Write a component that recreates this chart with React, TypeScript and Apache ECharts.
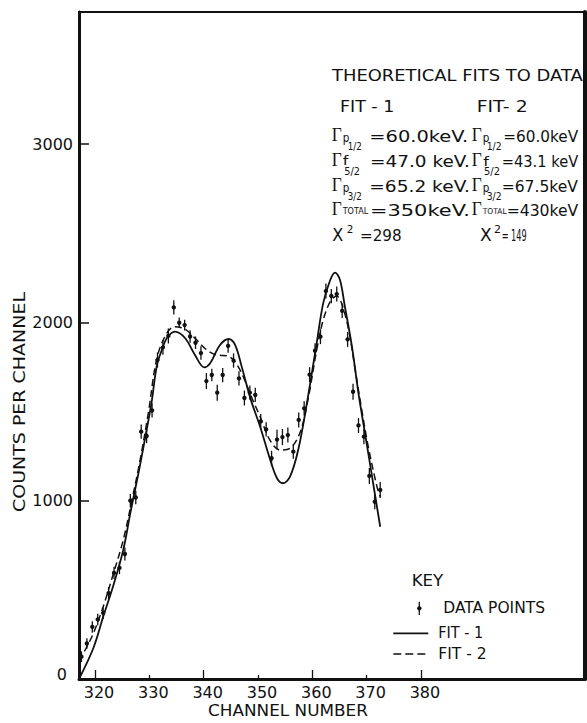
import React, { useEffect, useRef } from 'react';
import * as echarts from 'echarts';

// Measured data points (channel, counts per channel, half-length of error bar)
const channels = [
  317.5, 318.5, 319.5, 320.5, 321.5, 322.5, 323.5, 324.5, 325.5, 326.5,
  327.5, 328.5, 329.5, 330.5, 331.5, 332.5, 333.5, 334.5, 335.5, 336.5,
  337.5, 338.5, 339.5, 340.5, 341.5, 342.5, 343.5, 344.5, 345.5, 346.5,
  347.5, 348.5, 349.5, 350.5, 351.5, 352.5, 353.5, 354.5, 355.5, 356.5,
  357.5, 358.5, 359.5, 360.5, 361.5, 362.5, 363.5, 364.5, 365.5, 366.5,
  367.5, 368.5, 369.5, 370.5, 371.5, 372.5,
];
const counts = [
  125, 199, 292, 334, 370, 482, 595, 623, 701, 1000,
  1018, 1387, 1363, 1506, 1789, 1860, 1924, 2084, 1998, 1985,
  1921, 1886, 1828, 1671, 1705, 1606, 1705, 1868, 1786, 1686,
  1576, 1606, 1593, 1445, 1400, 1238, 1343, 1357, 1368, 1275,
  1453, 1518, 1707, 1841, 1920, 2176, 2148, 2159, 2065, 1905,
  1611, 1422, 1359, 1139, 994, 1060,
];
const errors = [
  30, 30, 32, 32, 33, 34, 34, 35, 36, 38,
  38, 40, 40, 40, 42, 42, 42, 40, 30, 30,
  35, 35, 38, 45, 35, 45, 40, 38, 40, 40,
  42, 40, 40, 42, 40, 42, 55, 45, 42, 40,
  42, 40, 42, 42, 42, 42, 40, 42, 40, 42,
  45, 42, 42, 45, 42, 45,
];

// Fit 1 (solid curve)
const fit1Channels = [
  317.05, 319.7, 321.5, 323.4, 325.2, 326.5, 328.0, 329.5, 330.4, 331.4,
  332.3, 333.2, 334.7, 336.6, 338.4, 340.1, 341.2, 343.0, 344.6, 345.8,
  347.0, 348.6, 350.4, 352.2, 353.5, 354.6, 355.9, 357.4, 359.0, 360.8,
  362.0, 363.3, 364.2, 365.1, 366.0, 367.3, 368.5, 369.7, 371.0, 372.5,
];
const fit1Counts = [
  0, 174, 349, 527, 724, 931, 1155, 1397, 1550, 1761,
  1845, 1911, 1948, 1911, 1817, 1748, 1771, 1873, 1907, 1873,
  1752, 1574, 1415, 1234, 1126, 1098, 1135, 1284, 1546, 1883,
  2107, 2238, 2279, 2238, 2088, 1864, 1602, 1378, 1135, 854,
];

// Fit 2 (dashed curve)
const fit2Channels = [
  317.05, 318.5, 319.7, 321.5, 323.4, 325.2, 326.8, 328.3, 329.8, 331.4,
  333.2, 334.7, 336.6, 338.4, 340.6, 342.4, 344.3, 345.5, 347.0, 348.9,
  350.4, 352.2, 354.1, 355.9, 357.8, 359.3, 360.8, 362.0, 363.3, 364.5,
  365.4, 366.7, 367.9, 369.1, 370.3, 371.9, 372.5,
];
const fit2Counts = [
  100, 181, 256, 405, 593, 780, 1004, 1228, 1490, 1800,
  1939, 1976, 1961, 1911, 1845, 1817, 1813, 1789, 1715, 1574,
  1471, 1340, 1284, 1294, 1387, 1583, 1845, 2013, 2116, 2148,
  2107, 1957, 1733, 1509, 1303, 1079, 1022,
];

const xTickLabels = [320, 330, 340, 350, 360, 370, 380];
const xMajorTicks = [320, 340, 360, 380];
const xMinorTicks = [330, 350, 370];
const yTickLabels = [0, 1000, 2000, 3000];
const yTicks = [1000, 2000, 3000];

const X_MIN = 317.05;
const X_MAX = 410.2;
const Y_MAX = 3741;

const INK = '#111';
const FONT = 'DejaVu Sans';
const SERIF = 'Liberation Serif';

let measureCtx: CanvasRenderingContext2D | null = null;
function measure(text: string, size: number, family: string): number {
  if (!measureCtx) measureCtx = document.createElement('canvas').getContext('2d');
  if (!measureCtx) return text.length * size * 0.6;
  measureCtx.font = `${size}px "${family}"`;
  return measureCtx.measureText(text).width || text.length * size * 0.6;
}

function fitText(text: string, x0: number, x1: number, yc: number, size: number, family: string = FONT): any {
  const w = measure(text, size, family);
  return {
    type: 'text',
    x: x0,
    y: yc,
    scaleX: (x1 - x0) / w,
    z: 100,
    silent: true,
    style: { text, fontSize: size, fontFamily: family, fill: INK, align: 'left', verticalAlign: 'middle' },
  };
}

function centerText(text: string, cx: number, cy: number, len: number, size: number, rotation = 0): any {
  const w = measure(text, size, FONT);
  return {
    type: 'text',
    x: cx,
    y: cy,
    rotation,
    scaleX: len / w,
    z: 100,
    silent: true,
    style: { text, fontSize: size, fontFamily: FONT, fill: INK, align: 'center', verticalAlign: 'middle' },
  };
}

function buildGraphics(): any[] {
  const g: any[] = [];
  // Title block
  g.push(fitText('THEORETICAL FITS TO DATA', 332, 583, 76, 15));
  g.push(fitText('FIT - 1', 340, 394.3, 107, 15));
  g.push(fitText('FIT- 2', 476.7, 527.7, 107, 15));

  // Row 1: Γ p1/2
  g.push(fitText('Γ', 331.7, 341.7, 135, 18, SERIF));
  g.push(fitText('p', 342.7, 349.3, 138, 13));
  g.push(fitText('1/2', 347.7, 361.7, 146, 10));
  g.push(fitText('=60.0keV.', 369.3, 468.3, 136, 16));
  g.push(fitText('Γ', 471.7, 481.7, 135, 18, SERIF));
  g.push(fitText('p', 482.7, 489.3, 138, 13));
  g.push(fitText('1/2', 486.7, 501.7, 146, 10));
  g.push(fitText('=60.0keV', 503.3, 578.3, 136, 16));

  // Row 2: Γ f5/2
  g.push(fitText('Γ', 331.7, 341.7, 160, 18, SERIF));
  g.push(fitText('f', 342.7, 348.3, 161, 13));
  g.push(fitText('5/2', 344.3, 360, 171, 10));
  g.push(fitText('=47.0 keV.', 370, 470, 161.5, 16));
  g.push(fitText('Γ', 471.7, 481.7, 160, 18, SERIF));
  g.push(fitText('f', 483.3, 489, 161, 13));
  g.push(fitText('5/2', 484, 500, 171, 10));
  g.push(fitText('=43.1 keV', 501.7, 578.3, 161.5, 16));

  // Row 3: Γ p3/2
  g.push(fitText('Γ', 331.7, 341.7, 185, 18, SERIF));
  g.push(fitText('p', 342.7, 349.3, 188, 13));
  g.push(fitText('3/2', 347.7, 361.7, 196, 10));
  g.push(fitText('=65.2 keV.', 369.3, 470, 186, 16));
  g.push(fitText('Γ', 471.7, 481.7, 185, 18, SERIF));
  g.push(fitText('p', 482.7, 489.3, 188, 13));
  g.push(fitText('3/2', 486.7, 501.7, 196, 10));
  g.push(fitText('=67.5keV', 501.7, 578, 186, 16));

  // Row 4: Γ TOTAL
  g.push(fitText('Γ', 331.7, 341.7, 209, 18, SERIF));
  g.push(fitText('TOTAL', 342.7, 368.3, 211.5, 8));
  g.push(fitText('=350keV.', 370, 470, 210, 16));
  g.push(fitText('Γ', 471.7, 481.7, 209, 18, SERIF));
  g.push(fitText('TOTAL', 482.7, 506.7, 211.5, 8));
  g.push(fitText('=430keV', 506.7, 578.3, 210, 16));

  // Row 5: X^2
  g.push(fitText('X', 332.3, 343.3, 235, 17));
  g.push(fitText('2', 346.7, 353.3, 229, 11));
  g.push(fitText('=298', 360, 401.7, 235.5, 16));
  g.push(fitText('X', 480, 491.7, 235, 17));
  g.push(fitText('2', 494, 501, 229, 11));
  g.push(fitText('= 149', 501.7, 526.7, 235.5, 16));

  // Key
  g.push(fitText('KEY', 411.7, 443.3, 580.7, 16));
  g.push({ type: 'line', z: 100, silent: true, shape: { x1: 419.3, y1: 601.7, x2: 419.3, y2: 615 }, style: { stroke: INK, lineWidth: 1.3 } });
  g.push({ type: 'circle', z: 100, silent: true, shape: { cx: 419.3, cy: 608.3, r: 2.2 }, style: { fill: INK } });
  g.push(fitText('DATA POINTS', 443.3, 545, 608.3, 15));
  g.push({ type: 'line', z: 100, silent: true, shape: { x1: 393.3, y1: 633.3, x2: 428.3, y2: 633.3 }, style: { stroke: INK, lineWidth: 1.8 } });
  g.push(fitText('FIT - 1', 438.3, 483.3, 632.7, 15));
  g.push({ type: 'line', z: 100, silent: true, shape: { x1: 393.3, y1: 654, x2: 428.3, y2: 654 }, style: { stroke: INK, lineWidth: 1.5, lineDash: [8, 4] } });
  g.push(fitText('FIT - 2', 438.3, 486.7, 654, 15));

  // Axis titles
  g.push(centerText('CHANNEL NUMBER', 288, 711, 160, 15));
  g.push(centerText('COUNTS PER CHANNEL', 20, 402, 220, 15, Math.PI / 2));
  return g;
}

export default function App() {
  const ref = useRef<HTMLDivElement>(null);

  useEffect(() => {
    if (!ref.current) return;
    const chart = echarts.init(ref.current, null, { renderer: 'svg' });

    const pointData = channels.map((c, i) => [c, counts[i], errors[i]]);
    const fit1Data = fit1Channels.map((c, i) => [c, fit1Counts[i]]);
    const fit2Data = fit2Channels.map((c, i) => [c, fit2Counts[i]]);

    const labelStyle = { fontSize: 16, fontFamily: FONT, color: INK };

    const option: any = {
      animation: false,
      backgroundColor: '#fff',
      textStyle: { fontFamily: FONT },
      grid: { left: 79, right: 2, top: 12, bottom: 44, show: true, borderColor: INK, borderWidth: 2, backgroundColor: 'transparent' },
      xAxis: [
        {
          type: 'value',
          min: X_MIN,
          max: X_MAX,
          position: 'bottom',
          axisLine: { show: true, onZero: false, lineStyle: { color: INK, width: 3 } },
          axisTick: { show: true, inside: true, length: 9, customValues: xMajorTicks, lineStyle: { color: INK, width: 1.3 } },
          axisLabel: { ...labelStyle, margin: 5, padding: [0, 0, 0, 8], customValues: xTickLabels, formatter: (v: number) => String(v) },
          splitLine: { show: false },
        },
        {
          type: 'value',
          min: X_MIN,
          max: X_MAX,
          position: 'bottom',
          axisLine: { show: false },
          axisTick: { show: true, inside: true, length: 4, customValues: xMinorTicks, lineStyle: { color: INK, width: 1.3 } },
          axisLabel: { show: false },
          splitLine: { show: false },
        },
      ],
      yAxis: [
        {
          type: 'value',
          min: 0,
          max: Y_MAX,
          position: 'left',
          axisLine: { show: true, onZero: false, lineStyle: { color: INK, width: 3 } },
          axisTick: { show: true, inside: true, length: 10, customValues: yTicks, lineStyle: { color: INK, width: 1.5 } },
          axisLabel: {
            ...labelStyle,
            margin: 6,
            customValues: yTickLabels,
            formatter: (v: number) => (v === 0 ? '{z|0}' : String(v)),
            rich: { z: { fontSize: 16, fontFamily: FONT, color: INK, padding: [0, 6, 10, 0] } },
          },
          splitLine: { show: false },
        },
        {
          type: 'value',
          min: 0,
          max: Y_MAX,
          position: 'right',
          axisLine: { show: true, onZero: false, lineStyle: { color: INK, width: 4 } },
          axisTick: { show: false },
          axisLabel: { show: false },
          splitLine: { show: false },
        },
      ],
      series: [
        {
          name: 'FIT - 1',
          type: 'line',
          xAxisIndex: 0,
          yAxisIndex: 0,
          data: fit1Data,
          showSymbol: false,
          smooth: 0.35,
          lineStyle: { color: INK, width: 1.8 },
          z: 3,
        },
        {
          name: 'FIT - 2',
          type: 'line',
          xAxisIndex: 0,
          yAxisIndex: 0,
          data: fit2Data,
          showSymbol: false,
          smooth: 0.35,
          lineStyle: { color: INK, width: 1.5, type: [7, 4] },
          z: 3,
        },
        {
          name: 'DATA POINTS',
          type: 'custom',
          xAxisIndex: 0,
          yAxisIndex: 0,
          data: pointData,
          encode: { x: 0, y: 1 },
          z: 4,
          renderItem: (params: any, api: any) => {
            const x = api.value(0);
            const y = api.value(1);
            const e = api.value(2);
            const lo = api.coord([x, y - e]);
            const hi = api.coord([x, y + e]);
            const c = api.coord([x, y]);
            return {
              type: 'group',
              children: [
                { type: 'line', shape: { x1: lo[0], y1: lo[1], x2: hi[0], y2: hi[1] }, style: { stroke: INK, lineWidth: 1.3 } },
                { type: 'circle', shape: { cx: c[0], cy: c[1], r: 2.2 }, style: { fill: INK } },
              ],
            };
          },
        },
      ],
      graphic: buildGraphics(),
    };

    chart.setOption(option);
    return () => {
      chart.dispose();
    };
  }, []);

  return (
    <div
      ref={ref}
      style={{ position: 'absolute', left: 0, top: 0, width: 587, height: 723, background: '#fff' }}
    />
  );
}
